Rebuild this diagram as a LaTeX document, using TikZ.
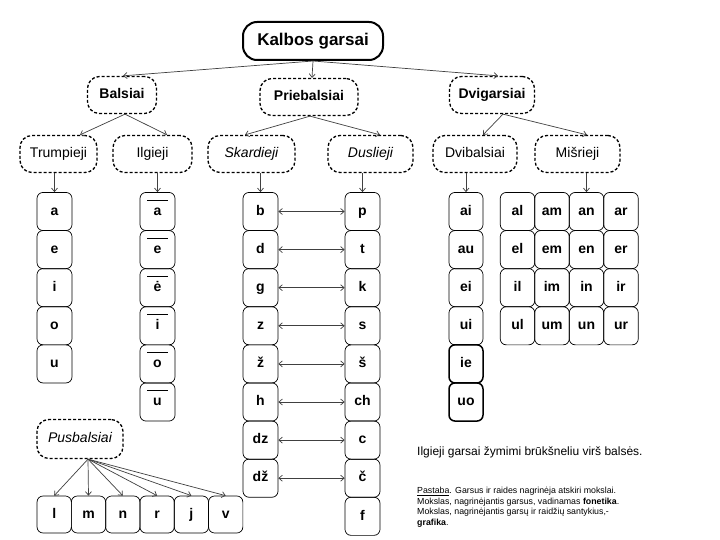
\documentclass[tikz,border=0pt]{standalone}
\usepackage{fontspec}
\setmainfont{Liberation Sans}
\usetikzlibrary{arrows.meta}
\begin{document}
\begin{tikzpicture}[x=1pt,y=-1pt,
  titlebox/.style={draw, line width=2pt, rounded corners=14pt, minimum width=140pt, minimum height=38pt, inner sep=0pt, text height=12.5pt, text depth=3.5pt, font=\bfseries\fontsize{17}{20}\selectfont},
  catbox/.style={draw, line width=1.3pt, dash pattern=on 3pt off 2pt, rounded corners=12pt, minimum height=37pt, inner sep=0pt, text height=10.5pt, text depth=3pt, font=\fontsize{14}{16}\selectfont},
  catbold/.style={catbox, font=\bfseries\fontsize{14}{16}\selectfont},
  catit/.style={catbox, font=\itshape\fontsize{14}{16}\selectfont},
  lt/.style={draw, line width=0.7pt, rounded corners=6pt, minimum width=35pt, minimum height=38.1pt, inner sep=0pt, text height=10.5pt, text depth=3pt, font=\bfseries\fontsize{14}{16}\selectfont},
  ltg/.style={lt, minimum width=34.5pt},
  ltthick/.style={lt, line width=1.5pt},
  arr/.style={draw=black!75, line width=0.7pt, -{Straight Barb[length=3.5pt,width=6pt]}},
  darr/.style={draw=black!75, line width=0.7pt, {Straight Barb[length=3.5pt,width=6pt]}-{Straight Barb[length=3.5pt,width=6pt]}},
  macron/.style={line width=0.8pt}
]
\useasboundingbox (0,0) rectangle (720,540);
\fill[white] (0,0) rectangle (720,540);

% title and categories
\node[titlebox] (title) at (313,41) {Kalbos garsai};
\node[catbold, minimum width=69pt] (bal) at (122,95) {Balsiai};
\node[catbold, minimum width=98pt] (prie) at (309,97) {Priebalsiai};
\node[catbold, minimum width=85pt] (dvig) at (492,95) {Dvigarsiai};

\node[catbox, minimum width=77pt] (trum) at (58.5,154) {Trumpieji};
\node[catbox, minimum width=79pt] (ilg) at (152.5,154) {Ilgieji};
\node[catit, minimum width=87pt] (skar) at (251.5,154) {Skardieji};
\node[catit, minimum width=85pt] (dus) at (370.5,154) {Duslieji};
\node[catbox, minimum width=84pt] (dvib) at (475,154) {Dvibalsiai};
\node[catbox, minimum width=85pt] (mis) at (577.5,154) {Mišrieji};
\node[catit, minimum width=86pt, minimum height=39pt] (pus) at (80,439) {Pusbalsiai};

% top connectors
\draw[arr] (title.south) -- ([xshift=1pt]bal.north);
\draw[arr] (title.south) -- ([xshift=3pt]prie.north);
\draw[arr] (title.south) -- ([xshift=6pt]dvig.north);

\draw[arr] ([xshift=3pt]bal.south) -- ([xshift=21.5pt]trum.north);
\draw[arr] ([xshift=3pt]bal.south) -- ([xshift=14.5pt]ilg.north);
\draw[arr] ([xshift=1pt]prie.south) -- ([xshift=-6.5pt]skar.north);
\draw[arr] ([xshift=1pt]prie.south) -- ([xshift=9.5pt]dus.north);
\draw[arr] ([xshift=11pt]dvig.south) -- ([xshift=8pt]dvib.north);
\draw[arr] ([xshift=11pt]dvig.south) -- ([xshift=9.5pt]mis.north);

% short vowels
\foreach \t [count=\i from 0] in {a,e,i,o,u}
  \node[lt] (s\i) at (54.5,{211.5+38.1*\i}) {\t};
% long vowels
\foreach \t [count=\i from 0] in {a,e,ė,i,o,u} {
  \node[lt] (l\i) at (157.5,{211.5+38.1*\i}) {\t};
  \draw[macron] ([yshift=-8pt]l\i.north) ++(-10.5,0) -- ++(21,0);
}
% voiced
\foreach \t [count=\i from 0] in {b,d,g,z,ž,h,dz,dž}
  \node[lt] (v\i) at (260.5,{211.5+38.1*\i}) {\t};
% voiceless
\foreach \t [count=\i from 0] in {p,t,k,s,š,ch,c,č,f}
  \node[lt] (u\i) at (362.5,{211.5+38.1*\i}) {\t};
\foreach \i in {0,...,7}
  \draw[darr] (v\i.east) -- (u\i.west);
% diphthongs
\foreach \t [count=\i from 0] in {ai,au,ei,ui}
  \node[lt, minimum width=34pt] (d\i) at (466,{211.5+38.1*\i}) {\t};
\node[ltthick, minimum width=34pt] (d4) at (466,{211.5+38.1*4}) {ie};
\node[ltthick, minimum width=34pt] (d5) at (466,{211.5+38.1*5}) {uo};
% mixed
\foreach \r [count=\j from 0] in {a,e,i,u}
  \foreach \c [count=\k from 0] in {l,m,n,r}
    \node[ltg] (m\j\k) at ({517.5+34.5*\k},{211.5+38.1*\j}) {\r\c};
% semivowels
\foreach \t [count=\i from 0] in {l,m,n,r,j,v}
  \node[lt, minimum width=34.3pt, minimum height=37pt] (p\i) at ({54.2+34.3*\i},514.5) {\t};

% column connectors
\draw[arr] (trum.south -| s0.north) -- (s0.north);
\draw[arr] (ilg.south -| l0.north) -- (l0.north);
\draw[arr] (skar.south -| v0.north) -- (v0.north);
\draw[arr] (dus.south -| u0.north) -- (u0.north);
\draw[arr] (dvib.south -| d0.north) -- (d0.north);
\draw[arr] (mis.south -| m02.north) -- (m02.north);
\foreach \i in {0,...,5}
  \draw[arr] ([xshift=8pt]pus.south) -- (p\i.north);

% notes
\node[anchor=west, inner sep=0pt, font=\fontsize{12}{14}\selectfont] (n1) at (417,452)
  {Ilgieji garsai žymimi brūkšneliu virš balsės.};
\node[anchor=north west, inner sep=0pt, align=left, font=\fontsize{8.8}{10.5}\selectfont] (n2) at (417,487)
  {\underline{Pastaba}. Garsus ir raides nagrinėja atskiri mokslai.\\
   Mokslas, nagrinėjantis garsus, vadinamas \textbf{fonetika}.\\
   Mokslas, nagrinėjantis garsų ir raidžių santykius,-\\
   \textbf{grafika}.};
\end{tikzpicture}
\end{document}
